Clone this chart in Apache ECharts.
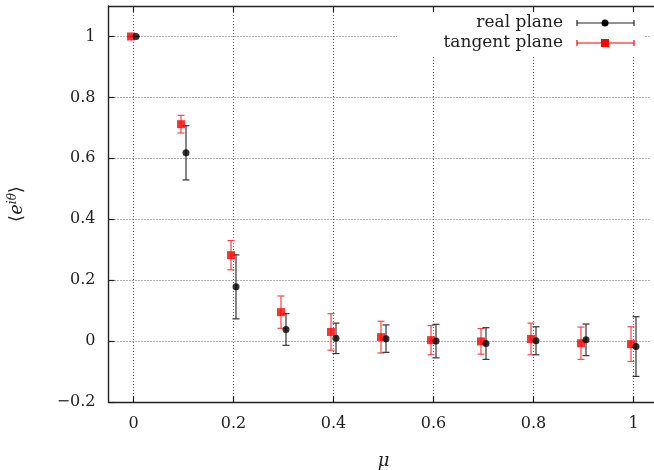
<!DOCTYPE html>
<html>
<head>
<meta charset="utf-8">
<script src="https://cdn.jsdelivr.net/npm/echarts@6/dist/echarts.min.js"></script>
<style>html,body{margin:0;padding:0;background:#fff;overflow:hidden}#c{width:654px;height:470px}</style>
</head>
<body>
<div id="c"></div>
<script>
const mu = [0, 0.1, 0.2, 0.3, 0.4, 0.5, 0.6, 0.7, 0.8, 0.9, 1.0];
const realVal = [1.0, 0.618, 0.178, 0.038, 0.009, 0.008, 0.0, -0.008, 0.001, 0.004, -0.018];
const realErr = [0.0, 0.089, 0.105, 0.052, 0.050, 0.045, 0.055, 0.052, 0.046, 0.052, 0.098];
const tanVal = [1.0, 0.712, 0.282, 0.095, 0.030, 0.013, 0.003, -0.001, 0.007, -0.007, -0.010];
const tanErr = [0.0, 0.029, 0.048, 0.053, 0.060, 0.052, 0.048, 0.042, 0.052, 0.053, 0.057];
const xTicks = [0, 0.2, 0.4, 0.6, 0.8, 1];
const yTicks = [-0.2, 0, 0.2, 0.4, 0.6, 0.8, 1];
const seriesNames = ['real plane', 'tangent plane'];

const SHIFT = 0.005;
const FONT = 'DejaVu Serif';
const chart = echarts.init(document.getElementById('c'));

function pts(vals, errs, shift) {
  return mu.map((m, i) => [m + shift, vals[i], errs[i]]);
}
function errSeries(data, color, hw) {
  return {
    type: 'custom', data: data, z: 3, silent: true,
    renderItem: function (params, api) {
      const x = api.value(0), y = api.value(1), e = api.value(2);
      const t = api.coord([x, y + e]), b = api.coord([x, y - e]);
      const st = { stroke: color, lineWidth: 1.2 };
      return { type: 'group', children: [
        { type: 'line', shape: { x1: t[0], y1: t[1], x2: b[0], y2: b[1] }, style: st },
        { type: 'line', shape: { x1: t[0] - hw, y1: t[1], x2: t[0] + hw, y2: t[1] }, style: st },
        { type: 'line', shape: { x1: b[0] - hw, y1: b[1], x2: b[0] + hw, y2: b[1] }, style: st }
      ]};
    }
  };
}
const fmt = v => String(Math.round(v * 10) / 10).replace('-', '\u2212');

chart.setOption({
  animation: false,
  grid: { left: 108.5, top: 6, width: 550, height: 396, outerBoundsMode: 'none', containLabel: false },
  xAxis: [{
    type: 'value', min: -0.05, max: 1.05,
    axisLine: { show: true, onZero: false, lineStyle: { color: '#222', width: 1.4 } },
    axisTick: { show: true, inside: true, length: 6, customValues: xTicks, lineStyle: { color: '#222', width: 1.2 } },
    axisLabel: { customValues: xTicks, formatter: fmt, fontFamily: FONT, fontSize: 16, color: '#222', margin: 14 },
    splitLine: { show: true, lineStyle: { color: '#666', type: [1, 2], width: 1 } },
    name: 'μ', nameLocation: 'middle', nameGap: 50,
    nameTextStyle: { fontFamily: FONT, fontStyle: 'italic', fontSize: 18, color: '#222' }
  }, {
    type: 'value', position: 'top', min: -0.05, max: 1.05, z: 10,
    axisLine: { show: true, onZero: false, lineStyle: { color: '#222', width: 1.4 } },
    axisTick: { show: true, inside: true, length: 6, customValues: xTicks, lineStyle: { color: '#222', width: 1.2 } },
    axisLabel: { show: false }, splitLine: { show: false }
  }],
  yAxis: [{
    type: 'value', min: -0.2, max: 1.1,
    axisLine: { show: true, onZero: false, lineStyle: { color: '#222', width: 1.4 } },
    axisTick: { show: true, inside: true, length: 6, customValues: yTicks, lineStyle: { color: '#222', width: 1.2 } },
    axisLabel: { customValues: yTicks, formatter: fmt, fontFamily: FONT, fontSize: 16, color: '#222', margin: 13 },
    splitLine: { show: true, lineStyle: { color: '#666', type: [1, 2], width: 1 } },
    name: '{a|⟨}{b|e}{s|iθ}{a|⟩}', nameLocation: 'middle', nameGap: 80, nameRotate: 90,
    nameTextStyle: {
      color: '#222',
      rich: {
        a: { fontFamily: FONT, fontSize: 18, color: '#222' },
        b: { fontFamily: FONT, fontSize: 18, fontStyle: 'italic', color: '#222' },
        s: { fontFamily: FONT, fontSize: 12, fontStyle: 'italic', color: '#222', padding: [0, 0, 10, 0] }
      }
    }
  }],
  graphic: [
    { type: 'rect', z: 5, shape: { x: 397, y: 8, width: 247, height: 47 }, style: { fill: '#fff' } },
    { type: 'rect', z: 20, shape: { x: 650, y: 9, width: 6, height: 391 }, style: { fill: '#fff' } },
    { type: 'text', z: 6, x: 563, y: 23, style: { text: seriesNames[0], font: '17px "DejaVu Serif"', fill: '#222', align: 'right', verticalAlign: 'middle' } },
    { type: 'text', z: 6, x: 563, y: 43, style: { text: seriesNames[1], font: '17px "DejaVu Serif"', fill: '#222', align: 'right', verticalAlign: 'middle' } },
    { type: 'line', z: 6, shape: { x1: 577, y1: 23, x2: 634, y2: 23 }, style: { stroke: '#222', lineWidth: 1.2 } },
    { type: 'line', z: 6, shape: { x1: 577, y1: 20, x2: 577, y2: 26 }, style: { stroke: '#222', lineWidth: 1.2 } },
    { type: 'line', z: 6, shape: { x1: 634, y1: 20, x2: 634, y2: 26 }, style: { stroke: '#222', lineWidth: 1.2 } },
    { type: 'circle', z: 6, shape: { cx: 605, cy: 23, r: 3.5 }, style: { fill: '#000' } },
    { type: 'line', z: 6, shape: { x1: 577, y1: 43, x2: 634, y2: 43 }, style: { stroke: '#f00', lineWidth: 1.2 } },
    { type: 'line', z: 6, shape: { x1: 577, y1: 40, x2: 577, y2: 46 }, style: { stroke: '#f00', lineWidth: 1.2 } },
    { type: 'line', z: 6, shape: { x1: 634, y1: 40, x2: 634, y2: 46 }, style: { stroke: '#f00', lineWidth: 1.2 } },
    { type: 'rect', z: 6, shape: { x: 601, y: 39, width: 8, height: 8 }, style: { fill: '#f00' } }
  ],
  series: [
    errSeries(pts(tanVal, tanErr, -SHIFT), '#f44', 3.5),
    { type: 'scatter', name: seriesNames[1], data: pts(tanVal, tanErr, -SHIFT), symbol: 'rect', symbolSize: 8, itemStyle: { color: '#f00' }, z: 4 },
    errSeries(pts(realVal, realErr, SHIFT), '#333', 3.5),
    { type: 'scatter', name: seriesNames[0], data: pts(realVal, realErr, SHIFT), symbol: 'circle', symbolSize: 7, itemStyle: { color: '#000' }, z: 5 }
  ]
});
</script>
</body>
</html>
